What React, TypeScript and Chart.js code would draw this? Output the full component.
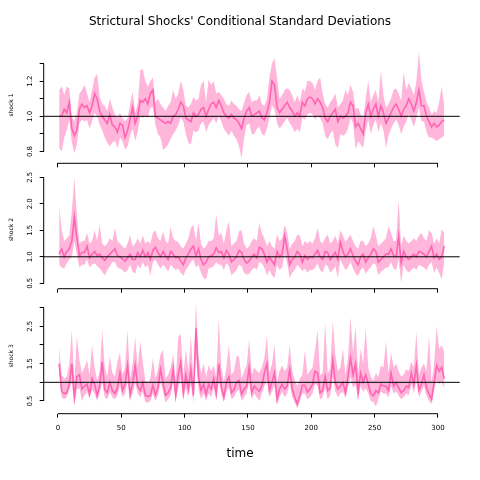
import React, { useEffect, useRef } from "react";
import { Chart, registerables } from "chart.js";

Chart.register(...registerables);

const TITLE = "Strictural Shocks' Conditional Standard Deviations";
const X_TITLE = "time";
const REF_LEVEL = 1;

const TIME_START = 1;
const TIME_STEP = 2;

const xTicks = [0, 50, 100, 150, 200, 250, 300];
const xTickLabels = ["0", "50", "100", "150", "200", "250", "300"];

const y1Ticks = [0.8, 0.9, 1.0, 1.1, 1.2, 1.3];
const y1TickLabels = ["0.8", "", "1.0", "", "1.2", ""];
const y2Ticks = [0.5, 1.0, 1.5, 2.0, 2.5];
const y2TickLabels = ["0.5", "1.0", "1.5", "2.0", "2.5"];
const y3Ticks = [0.5, 1.0, 1.5, 2.0, 2.5, 3.0];
const y3TickLabels = ["0.5", "", "1.5", "", "2.5", ""];

const shock1Mean = [
  1.00,1.00,1.04,1.02,1.08,0.93,0.89,0.92,1.04,1.07,
  1.05,1.06,1.02,1.06,1.13,1.10,1.03,1.00,0.98,0.96,
  1.01,0.95,0.94,0.91,0.96,0.95,0.88,0.92,0.98,1.05,
  0.96,1.00,1.09,1.08,1.10,1.07,1.13,1.15,1.00,0.99,
  0.98,0.97,0.96,0.97,0.96,1.00,1.01,1.04,1.08,1.06,
  0.99,0.98,0.97,1.02,1.00,1.01,1.04,1.05,1.00,1.04,
  1.07,1.08,1.05,1.09,1.06,1.02,1.00,0.99,1.01,0.99,
  0.98,0.96,0.93,0.99,1.03,1.05,1.00,1.01,1.02,1.03,
  0.99,0.98,1.02,1.08,1.20,1.18,1.05,1.02,1.04,1.06,
  1.08,1.05,1.03,1.00,1.02,1.00,1.08,1.06,1.10,1.11,
  1.10,1.07,1.10,1.08,1.05,0.99,0.97,1.00,1.02,1.04,
  0.97,1.00,0.99,1.00,1.02,1.08,1.06,0.94,0.96,0.93,
  0.90,1.02,1.07,1.00,1.04,1.07,1.00,1.06,1.02,0.96,
  0.99,1.02,1.05,1.07,1.04,1.00,1.04,1.06,1.10,1.07,
  1.03,1.08,1.15,1.06,1.06,1.00,0.97,0.94,0.96,0.94,
  0.95,0.97,0.98,
];
const shock1Upper = [
  1.15,1.17,1.12,1.17,1.16,1.00,0.97,1.02,1.13,1.15,
  1.18,1.13,1.08,1.15,1.22,1.24,1.11,1.07,1.06,1.03,
  1.10,1.05,1.01,0.99,1.02,0.99,0.97,0.99,1.07,1.14,
  1.02,1.07,1.26,1.27,1.20,1.17,1.20,1.22,1.08,1.10,
  1.07,1.05,1.03,1.06,1.08,1.15,1.10,1.13,1.20,1.15,
  1.06,1.05,1.07,1.11,1.09,1.10,1.18,1.20,1.08,1.21,
  1.18,1.20,1.13,1.14,1.12,1.10,1.07,1.06,1.09,1.07,
  1.06,1.04,1.03,1.08,1.12,1.14,1.08,1.09,1.09,1.12,
  1.07,1.06,1.10,1.22,1.30,1.33,1.22,1.10,1.12,1.15,
  1.16,1.15,1.12,1.08,1.12,1.08,1.16,1.14,1.20,1.20,
  1.19,1.15,1.20,1.22,1.13,1.07,1.05,1.08,1.10,1.13,
  1.05,1.07,1.09,1.15,1.12,1.18,1.14,1.04,1.05,1.01,
  0.99,1.10,1.20,1.08,1.12,1.15,1.08,1.26,1.12,1.05,
  1.07,1.10,1.15,1.16,1.13,1.09,1.25,1.15,1.19,1.16,
  1.12,1.20,1.37,1.20,1.14,1.08,1.05,1.01,1.03,1.02,
  1.08,1.17,1.06,
];
const shock1Lower = [
  0.82,0.80,0.88,0.92,0.98,0.85,0.79,0.84,0.96,0.98,
  0.97,0.98,0.93,0.97,1.02,1.00,0.95,0.92,0.88,0.85,
  0.83,0.85,0.86,0.82,0.88,0.86,0.81,0.83,0.89,0.93,
  0.86,0.91,1.00,0.99,1.00,0.99,1.05,1.05,0.95,0.90,
  0.88,0.81,0.82,0.84,0.87,0.90,0.92,0.95,0.99,0.97,
  0.90,0.85,0.84,0.92,0.91,0.92,0.96,0.97,0.91,0.95,
  0.97,0.99,0.96,1.00,0.97,0.93,0.91,0.89,0.92,0.89,
  0.87,0.83,0.76,0.88,0.95,0.96,0.90,0.90,0.93,0.94,
  0.90,0.89,0.93,0.99,1.06,1.04,0.96,0.93,0.95,0.97,
  0.99,0.96,0.94,0.91,0.93,0.91,0.99,0.98,1.01,1.02,
  1.01,0.98,1.00,0.99,0.96,0.89,0.87,0.90,0.92,0.84,
  0.82,0.90,0.89,0.90,0.93,0.99,0.96,0.81,0.86,0.84,
  0.82,0.92,0.98,0.90,0.95,0.98,0.91,0.96,0.92,0.82,
  0.89,0.93,0.96,0.98,0.95,0.90,0.94,0.97,1.01,0.98,
  0.94,0.99,1.05,0.97,0.97,0.91,0.88,0.88,0.87,0.86,
  0.87,0.88,0.89,
];

const shock2Mean = [
  1.05,1.15,1.00,1.10,1.15,1.30,1.75,1.35,1.02,1.08,
  1.08,1.20,0.98,1.05,1.10,1.02,1.05,0.98,0.93,1.00,
  1.05,1.10,1.15,1.02,1.00,0.96,0.92,0.98,1.05,0.95,
  0.95,1.08,1.00,1.12,1.00,1.08,0.95,1.12,1.18,1.08,
  1.00,1.10,1.02,0.95,1.10,1.05,0.98,1.00,0.92,0.85,
  0.98,1.05,1.15,1.20,1.02,1.15,0.95,0.85,0.90,1.00,
  1.02,1.05,1.17,1.08,1.10,0.98,1.12,1.05,0.90,0.95,
  1.00,1.12,1.08,0.95,0.88,0.92,1.00,1.05,0.98,1.18,
  1.15,1.05,0.90,1.00,0.92,0.85,1.10,1.00,1.05,1.39,
  1.15,0.85,0.95,1.00,1.10,1.05,0.90,1.02,0.95,1.00,
  0.98,1.05,1.12,1.00,0.95,1.10,1.08,0.95,1.02,1.08,
  0.95,1.28,1.10,1.00,1.05,1.15,1.02,0.92,0.85,1.00,
  1.05,0.90,0.98,1.05,1.15,1.10,0.90,0.95,1.00,1.05,
  1.05,1.15,1.02,1.00,1.39,0.88,1.10,1.00,0.95,1.00,
  1.05,1.00,1.10,1.08,1.05,1.00,1.10,1.20,0.98,1.05,
  0.95,1.00,1.20,
];
const shock2Upper = [
  1.95,1.50,1.30,1.35,1.40,1.85,2.50,1.75,1.25,1.30,
  1.30,1.45,1.25,1.30,1.50,1.30,1.60,1.25,1.20,1.25,
  1.35,1.30,1.55,1.30,1.25,1.20,1.15,1.25,1.40,1.20,
  1.25,1.35,1.25,1.40,1.25,1.30,1.25,1.45,1.50,1.35,
  1.30,1.48,1.30,1.25,1.56,1.35,1.30,1.28,1.20,1.15,
  1.25,1.35,1.55,1.60,1.30,1.64,1.25,1.15,1.20,1.30,
  1.30,1.35,1.80,1.40,1.45,1.25,1.50,1.67,1.20,1.25,
  1.30,1.48,1.50,1.25,1.15,1.20,1.30,1.35,1.30,1.64,
  1.45,1.35,1.20,1.30,1.20,1.15,1.42,1.30,1.35,1.60,
  1.45,1.15,1.25,1.30,1.42,1.40,1.20,1.30,1.25,1.30,
  1.25,1.35,1.55,1.30,1.25,1.35,1.42,1.25,1.30,1.40,
  1.25,1.50,1.40,1.28,1.35,1.42,1.30,1.20,1.15,1.30,
  1.30,1.20,1.25,1.35,1.58,1.40,1.20,1.25,1.30,1.35,
  1.58,1.45,1.30,1.30,2.07,1.20,1.40,1.30,1.25,1.30,
  1.35,1.30,1.40,1.45,1.35,1.30,1.50,1.45,1.25,1.35,
  1.25,1.52,1.45,
];
const shock2Lower = [
  0.85,0.80,0.78,0.88,0.95,1.00,1.30,1.05,0.80,0.85,
  0.85,0.95,0.80,0.85,0.88,0.82,0.78,0.72,0.65,0.75,
  0.82,0.90,0.90,0.80,0.78,0.75,0.70,0.75,0.85,0.72,
  0.68,0.85,0.78,0.90,0.80,0.85,0.65,0.90,0.95,0.85,
  0.78,0.85,0.80,0.72,0.85,0.80,0.75,0.78,0.70,0.64,
  0.75,0.82,0.90,0.95,0.80,0.85,0.70,0.60,0.57,0.78,
  0.80,0.82,0.90,0.85,0.85,0.75,0.88,0.82,0.65,0.70,
  0.75,0.85,0.82,0.70,0.66,0.68,0.75,0.80,0.75,0.90,
  0.88,0.80,0.65,0.75,0.65,0.60,0.85,0.75,0.80,1.05,
  0.88,0.60,0.70,0.75,0.85,0.80,0.73,0.78,0.70,0.75,
  0.75,0.80,0.88,0.75,0.70,0.85,0.82,0.70,0.75,0.82,
  0.60,0.95,0.85,0.75,0.80,0.90,0.78,0.68,0.64,0.75,
  0.80,0.68,0.75,0.80,0.88,0.85,0.65,0.72,0.75,0.80,
  0.80,0.90,0.78,0.75,0.95,0.51,0.85,0.75,0.70,0.75,
  0.80,0.75,0.85,0.82,0.80,0.75,0.85,0.90,0.70,0.80,
  0.70,0.57,0.90,
];

const shock3Mean = [
  1.50,0.75,0.70,0.72,0.95,1.50,0.62,1.15,1.20,0.82,
  0.90,0.95,0.68,1.10,0.95,0.65,0.90,1.55,0.80,0.72,
  1.00,0.78,0.70,0.85,1.25,0.78,0.95,1.45,0.68,0.95,
  1.45,0.90,0.78,1.00,0.65,0.62,0.65,0.92,0.66,0.85,
  1.35,1.00,0.65,0.72,0.85,1.35,0.65,1.20,1.55,0.72,
  1.20,0.82,1.35,0.65,2.45,1.15,0.78,0.95,0.68,0.95,
  0.82,1.10,0.70,1.50,0.90,0.60,1.00,1.15,0.72,0.80,
  1.00,1.05,0.68,0.82,0.90,1.40,0.72,0.90,0.82,0.76,
  0.90,1.25,1.50,0.78,1.00,1.25,0.55,0.82,0.95,0.82,
  0.90,1.35,0.82,0.60,0.42,0.65,0.92,0.92,0.74,0.82,
  0.95,1.30,1.25,0.72,0.78,1.15,0.78,0.85,1.60,1.00,
  0.82,0.90,1.00,0.72,1.15,1.65,1.20,1.50,0.72,1.25,
  1.00,1.20,0.95,0.70,0.64,0.78,0.72,0.95,0.90,0.90,
  0.78,1.25,0.90,1.00,0.86,0.72,0.78,0.90,0.86,1.25,
  0.95,1.45,0.78,0.95,1.20,0.86,0.68,0.55,1.00,1.45,
  1.30,1.40,1.10,
];
const shock3Upper = [
  1.95,1.20,1.10,1.15,1.50,2.40,1.00,2.25,1.60,1.25,
  1.40,1.60,1.20,2.00,1.40,1.05,1.30,2.40,1.40,1.15,
  1.70,1.25,1.15,1.55,1.80,1.20,1.40,2.40,1.10,1.50,
  2.20,1.40,2.10,1.55,1.05,1.00,1.10,1.65,1.10,1.35,
  1.75,1.86,1.10,1.20,1.40,1.75,1.05,2.20,2.30,1.15,
  1.90,1.30,2.25,1.05,3.15,1.70,1.25,1.50,1.15,1.45,
  1.30,1.45,1.15,2.70,1.40,1.00,1.40,2.00,1.20,1.30,
  1.70,1.70,1.10,1.30,1.45,2.15,1.20,1.40,1.30,1.25,
  1.40,1.65,2.25,1.25,1.50,2.00,1.00,1.30,1.45,1.30,
  1.40,2.00,1.30,1.05,0.90,1.10,1.20,1.85,1.20,1.30,
  1.40,1.85,2.40,1.20,1.25,2.60,1.25,1.35,2.65,1.75,
  1.30,1.40,1.90,1.20,1.65,2.75,1.80,2.50,1.20,1.90,
  1.50,2.45,1.40,1.15,1.05,1.25,1.15,1.45,1.40,2.10,
  1.25,1.80,1.40,1.50,1.30,1.15,1.20,1.35,1.30,1.55,
  1.40,2.35,1.20,1.40,1.50,1.30,2.25,1.00,1.50,2.50,
  1.90,2.00,1.80,
];
const shock3Lower = [
  1.20,0.60,0.55,0.60,0.80,1.00,0.35,0.80,0.85,0.50,
  0.65,0.75,0.58,0.80,0.70,0.50,0.70,1.00,0.60,0.55,
  0.75,0.60,0.55,0.65,0.90,0.60,0.70,1.00,0.50,0.70,
  1.00,0.70,0.60,0.75,0.48,0.45,0.50,0.70,0.50,0.65,
  1.00,0.75,0.45,0.55,0.65,1.00,0.50,0.85,1.10,0.55,
  0.85,0.60,0.95,0.45,1.70,0.80,0.55,0.70,0.50,0.70,
  0.60,0.85,0.52,1.00,0.70,0.48,0.75,0.85,0.55,0.60,
  0.75,0.80,0.50,0.60,0.70,1.00,0.55,0.70,0.60,0.50,
  0.70,0.90,1.05,0.60,0.75,0.90,0.40,0.60,0.75,0.60,
  0.70,1.00,0.60,0.45,0.30,0.50,0.70,0.70,0.55,0.60,
  0.70,0.95,0.90,0.55,0.60,0.85,0.55,0.65,1.15,0.75,
  0.60,0.70,0.75,0.58,0.85,1.15,0.85,0.95,0.55,0.90,
  0.75,0.85,0.70,0.50,0.48,0.35,0.55,0.75,0.70,0.70,
  0.60,0.90,0.70,0.75,0.65,0.55,0.60,0.70,0.65,0.95,
  0.70,1.05,0.60,0.75,0.90,0.65,0.50,0.42,0.80,1.05,
  0.95,1.00,0.85,
];

const time = shock1Mean.map((_, i) => TIME_START + TIME_STEP * i);

const FONT = "'DejaVu Sans', sans-serif";
const BAND_COLOR = "rgb(255,182,218)";
const LINE_COLOR = "rgb(255,100,178)";
const AXIS_COLOR = "#000";

const X_MIN = -11.2;
const X_MAX = 317.2;
const PLOT_LEFT = 43.7;
const PLOT_RIGHT_GAP = 20.3;

type PanelCfg = {
  name: string;
  label: string;
  mean: number[];
  upper: number[];
  lower: number[];
  yMin: number;
  yMax: number;
  yTicks: number[];
  yTickLabels: string[];
  showXLabels: boolean;
  titleText: string;
  titlePos: "top" | "bottom";
  titlePad: { top: number; bottom: number };
  top: number;
  height: number;
  padTop: number;
  xHeight: number;
};

const panels: PanelCfg[] = [
  {
    name: "p1", label: "shock 1", mean: shock1Mean, upper: shock1Upper, lower: shock1Lower,
    yMin: 0.733, yMax: 1.395, yTicks: y1Ticks, yTickLabels: y1TickLabels,
    showXLabels: false, titleText: TITLE, titlePos: "top", titlePad: { top: 14.8, bottom: 17.6 },
    top: 0, height: 172, padTop: 0, xHeight: 8.7,
  },
  {
    name: "p2", label: "shock 2", mean: shock2Mean, upper: shock2Upper, lower: shock2Lower,
    yMin: 0.398, yMax: 2.63, yTicks: y2Ticks, yTickLabels: y2TickLabels,
    showXLabels: false, titleText: "", titlePos: "top", titlePad: { top: 0, bottom: 0 },
    top: 160, height: 137, padTop: 10.4, xHeight: 8.3,
  },
  {
    name: "p3", label: "shock 3", mean: shock3Mean, upper: shock3Upper, lower: shock3Lower,
    yMin: 0.16, yMax: 3.26, yTicks: y3Ticks, yTickLabels: y3TickLabels,
    showXLabels: true, titleText: X_TITLE, titlePos: "bottom", titlePad: { top: 8.1, bottom: 18.8 },
    top: 285, height: 195, padTop: 12.9, xHeight: 25,
  },
];

function makeRAxesPlugin(cfg: PanelCfg) {
  return {
    id: "rAxes_" + cfg.name,
    afterDatasetsDraw(chart: any) {
      const { ctx, chartArea, scales } = chart;
      const yr = scales.y.getPixelForValue(REF_LEVEL);
      ctx.save();
      ctx.strokeStyle = AXIS_COLOR;
      ctx.lineWidth = 1;
      ctx.beginPath();
      ctx.moveTo(chartArea.left, yr);
      ctx.lineTo(chartArea.right, yr);
      ctx.stroke();
      ctx.restore();
    },
    afterDraw(chart: any) {
      const { ctx, chartArea, scales } = chart;
      const xs = scales.x;
      const ys = scales.y;
      ctx.save();
      ctx.strokeStyle = AXIS_COLOR;
      ctx.lineWidth = 1;
      ctx.beginPath();
      ctx.moveTo(chartArea.left, ys.getPixelForValue(cfg.yTicks[0]));
      ctx.lineTo(chartArea.left, ys.getPixelForValue(cfg.yTicks[cfg.yTicks.length - 1]));
      ctx.moveTo(xs.getPixelForValue(xTicks[0]), chartArea.bottom);
      ctx.lineTo(xs.getPixelForValue(xTicks[xTicks.length - 1]), chartArea.bottom);
      ctx.stroke();
      ctx.restore();
    },
  };
}

function Panel({ cfg }: { cfg: PanelCfg }) {
  const ref = useRef<HTMLCanvasElement | null>(null);
  useEffect(() => {
    if (!ref.current) return;
    const toPts = (arr: number[]) => arr.map((v, i) => ({ x: time[i], y: v }));
    const chart = new Chart(ref.current, {
      type: "line",
      data: {
        datasets: [
          {
            label: cfg.label + " mean",
            data: toPts(cfg.mean),
            borderColor: LINE_COLOR,
            borderWidth: 1.6,
            pointRadius: 0,
            fill: false,
            tension: 0,
            order: 0,
          },
          {
            label: cfg.label + " upper",
            data: toPts(cfg.upper),
            borderWidth: 0,
            borderColor: "rgba(0,0,0,0)",
            backgroundColor: BAND_COLOR,
            pointRadius: 0,
            fill: "+1",
            tension: 0,
            order: 1,
          },
          {
            label: cfg.label + " lower",
            data: toPts(cfg.lower),
            borderWidth: 0,
            borderColor: "rgba(0,0,0,0)",
            pointRadius: 0,
            fill: false,
            tension: 0,
            order: 2,
          },
        ],
      },
      options: {
        animation: false,
        responsive: false,
        maintainAspectRatio: false,
        events: [],
        layout: { padding: { top: cfg.padTop, right: 0, bottom: 0, left: 0 } },
        plugins: {
          legend: { display: false },
          tooltip: { enabled: false },
          title: {
            display: cfg.titleText !== "",
            text: cfg.titleText,
            position: cfg.titlePos,
            color: "#000",
            font: { family: FONT, size: 12, weight: "normal" },
            padding: cfg.titlePad,
          },
        },
        scales: {
          x: {
            type: "linear",
            min: X_MIN,
            max: X_MAX,
            afterBuildTicks: (s: any) => {
              s.ticks = xTicks.map((v) => ({ value: v }));
            },
            afterFit: (s: any) => {
              s.height = cfg.xHeight;
            },
            border: { display: false },
            grid: {
              drawOnChartArea: false,
              drawTicks: true,
              tickLength: 4,
              color: AXIS_COLOR,
              lineWidth: 1,
            },
            ticks: {
              display: cfg.showXLabels,
              autoSkip: false,
              maxRotation: 0,
              minRotation: 0,
              padding: 6.6,
              color: "#000",
              font: { family: FONT, size: 7 },
              callback: (_v: any, i: number) => xTickLabels[i],
            },
          },
          y: {
            type: "linear",
            position: "left",
            min: cfg.yMin,
            max: cfg.yMax,
            afterBuildTicks: (s: any) => {
              s.ticks = cfg.yTicks.map((v) => ({ value: v }));
            },
            afterFit: (s: any) => {
              s.width = PLOT_LEFT;
            },
            border: { display: false },
            grid: {
              drawOnChartArea: false,
              drawTicks: true,
              tickLength: 4,
              color: AXIS_COLOR,
              lineWidth: 1,
            },
            ticks: {
              autoSkip: false,
              minRotation: 90,
              maxRotation: 90,
              crossAlign: "center",
              padding: 3.6,
              color: "#000",
              font: { family: FONT, size: 7 },
              callback: (_v: any, i: number) => cfg.yTickLabels[i],
            },
            title: {
              display: true,
              text: cfg.label,
              color: "#000",
              font: { family: FONT, size: 6 },
              padding: { top: 7.4, bottom: 0 },
            },
          },
          gapRight: {
            type: "linear",
            position: "right",
            display: true,
            afterFit: (s: any) => {
              s.width = PLOT_RIGHT_GAP;
            },
            border: { display: false },
            grid: { display: false },
            ticks: { display: false },
          },
        },
      } as any,
      plugins: [makeRAxesPlugin(cfg)],
    });
    return () => chart.destroy();
  }, [cfg]);
  return (
    <canvas
      ref={ref}
      width={480}
      height={cfg.height}
      style={{ position: "absolute", left: 0, top: cfg.top, width: 480, height: cfg.height }}
    />
  );
}

export default function App() {
  return (
    <div style={{ position: "fixed", left: 0, top: 0, width: 480, height: 480, background: "#fff", overflow: "hidden" }}>
      {panels.map((p) => (
        <Panel key={p.name} cfg={p} />
      ))}
    </div>
  );
}
